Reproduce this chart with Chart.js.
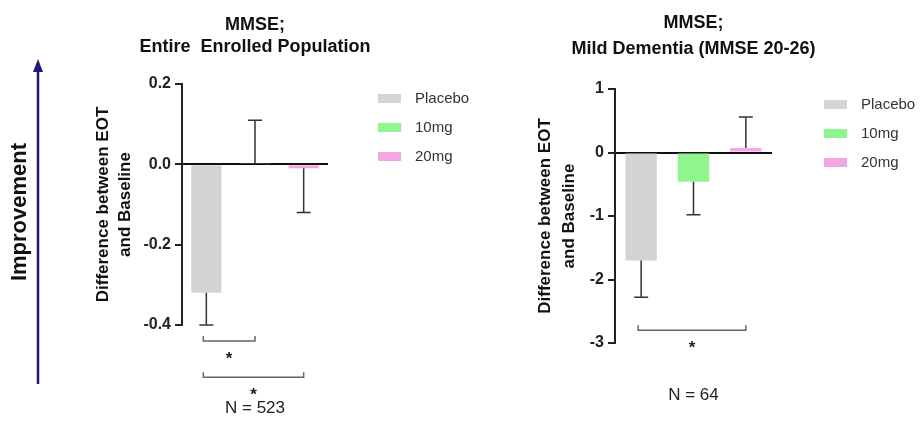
<!DOCTYPE html>
<html>
<head>
<meta charset="utf-8">
<script src="https://cdn.jsdelivr.net/npm/chart.js@4.4.1/dist/chart.umd.min.js"></script>
<style>
  body { margin:0; background:#fff; }
  canvas { position:absolute; top:0; }
  #c1 { left:0; }
  #c2 { left:500px; }
</style>
</head>
<body>
<canvas id="c1" width="500" height="429"></canvas>
<canvas id="c2" width="424" height="429"></canvas>
<script>
// ── data ───────────────────────────────────────────────
const groups = ['Placebo', '10mg', '20mg'];
const groupColors = ['#d4d4d4', '#8ff58f', '#f3a5e6'];

// MMSE, entire enrolled population (N = 523)
const entireMeans = [-0.32, 0.003, -0.01];
const entireErrors = [0.08, 0.107, 0.11];
const entireTicks = [-0.4, -0.2, 0.0, 0.2];
const entireSig = [[0, 1, -0.44], [0, 2, -0.53]];   // [from, to, bracket level]

// MMSE, mild dementia (N = 64)
const mildMeans = [-1.70, -0.46, 0.07];
const mildErrors = [0.58, 0.52, 0.49];
const mildTicks = [-3, -2, -1, 0, 1];
const mildSig = [[0, 2, -2.80]];

const FONT = 'Arial, "Liberation Sans", sans-serif';

// error bars, brackets, titles, legend, arrow
const extras = {
  id: 'extras',
  afterDatasetsDraw(chart, args, o) {
    const { ctx, scales: { x, y } } = chart;
    ctx.save();
    ctx.strokeStyle = '#333';
    ctx.lineWidth = 1.5;
    o.means.forEach((m, i) => {
      const cx = x.getPixelForValue(i);
      const end = m >= 0 ? m + o.errors[i] : m - o.errors[i];
      const y0 = y.getPixelForValue(m), y1 = y.getPixelForValue(end);
      ctx.beginPath();
      ctx.moveTo(cx, y0); ctx.lineTo(cx, y1);
      ctx.moveTo(cx - 7, y1); ctx.lineTo(cx + 7, y1);
      ctx.stroke();
    });
    ctx.restore();
  },
  afterDraw(chart, args, o) {
    const { ctx, chartArea: a, scales: { x, y } } = chart;
    const mid = (a.left + a.right) / 2;
    ctx.save();

    // significance brackets
    o.sig.forEach(([i, j, lvl]) => {
      const x0 = x.getPixelForValue(i) - 3, x1 = x.getPixelForValue(j);
      const by = y.getPixelForValue(lvl);
      ctx.strokeStyle = '#666';
      ctx.lineWidth = 1.5;
      ctx.beginPath();
      ctx.moveTo(x0, by - 5); ctx.lineTo(x0, by); ctx.lineTo(x1, by); ctx.lineTo(x1, by - 5);
      ctx.stroke();
      ctx.fillStyle = '#222';
      ctx.font = 'bold 17px ' + FONT;
      ctx.textAlign = 'center';
      ctx.textBaseline = 'alphabetic';
      ctx.fillText('*', (x0 + x1) / 2, by + 23);
    });

    // title
    ctx.fillStyle = '#111';
    ctx.font = 'bold 18px ' + FONT;
    ctx.textAlign = 'center';
    ctx.textBaseline = 'middle';
    o.title.forEach((t, k) => ctx.fillText(t, mid, o.titleY[k]));

    // N label
    ctx.font = '17px ' + FONT;
    ctx.fillStyle = '#222';
    ctx.fillText(o.n, mid, o.nY);

    // legend
    groups.forEach((g, k) => {
      const ly = a.top + o.legendTop + k * 29;
      ctx.fillStyle = groupColors[k];
      ctx.fillRect(a.right + o.legendGap, ly - 4, 23, 9);
      ctx.fillStyle = '#333';
      ctx.font = '15px ' + FONT;
      ctx.textAlign = 'left';
      ctx.fillText(g, a.right + o.legendGap + 37, ly + 1);
    });

    // improvement arrow
    if (o.arrow) {
      ctx.strokeStyle = '#1b1b7e';
      ctx.fillStyle = '#1b1b7e';
      ctx.lineWidth = 2.5;
      ctx.beginPath();
      ctx.moveTo(38, 384); ctx.lineTo(38, 70);
      ctx.stroke();
      ctx.beginPath();
      ctx.moveTo(38, 59); ctx.lineTo(33, 72); ctx.lineTo(43, 72);
      ctx.closePath();
      ctx.fill();
      ctx.save();
      ctx.translate(20, 212);
      ctx.rotate(-Math.PI / 2);
      ctx.fillStyle = '#111';
      ctx.font = 'bold 22px ' + FONT;
      ctx.textAlign = 'center';
      ctx.textBaseline = 'middle';
      ctx.fillText('Improvement', 0, 0);
      ctx.restore();
    }
    ctx.restore();
  }
};

function makeChart(id, cfg) {
  return new Chart(document.getElementById(id), {
    type: 'bar',
    data: {
      labels: groups,
      datasets: [{ data: cfg.means, backgroundColor: groupColors, borderWidth: 0,
                   barPercentage: 1, categoryPercentage: cfg.barPct }]
    },
    options: {
      responsive: false,
      animation: false,
      layout: { padding: cfg.padding },
      plugins: {
        legend: { display: false },
        tooltip: { enabled: false },
        extras: cfg.extras
      },
      scales: {
        x: { display: false },
        y: {
          z: 1,
          min: cfg.ticks[0],
          max: cfg.ticks[cfg.ticks.length - 1],
          afterBuildTicks: s => { s.ticks = cfg.ticks.map(v => ({ value: v })); },
          afterFit: s => { s.width = cfg.axisWidth; },
          border: { color: '#222', width: 2 },
          grid: {
            color: c => (c.tick && c.tick.value === 0 ? '#111' : 'transparent'),
            lineWidth: 2,
            tickColor: '#222',
            tickWidth: 2,
            tickLength: 7
          },
          ticks: {
            color: '#222',
            padding: 4,
            font: { family: FONT, size: 16, weight: 'bold' },
            callback: cfg.fmt
          },
          title: {
            display: true,
            text: ['Difference between EOT', 'and Baseline'],
            color: '#111',
            padding: { top: 4, bottom: 0 },
            font: { family: FONT, size: 17, weight: 'bold', lineHeight: cfg.titleLH }
          }
        }
      }
    },
    plugins: [extras]
  });
}

makeChart('c1', {
  means: entireMeans,
  ticks: entireTicks,
  barPct: 0.62,
  axisWidth: 94,
  titleLH: 22 / 17,
  padding: { left: 88, right: 172, top: 84, bottom: 104 },
  fmt: v => Number(v).toFixed(1),
  extras: {
    means: entireMeans, errors: entireErrors, sig: entireSig,
    title: ['MMSE;', 'Entire  Enrolled Population'], titleY: [25, 47],
    n: 'N = 523', nY: 408, legendTop: 14, legendGap: 50, arrow: true
  }
});

makeChart('c2', {
  means: mildMeans,
  ticks: mildTicks,
  barPct: 0.6,
  axisWidth: 86,
  titleLH: 24 / 17,
  padding: { left: 29, right: 152, top: 89, bottom: 86 },
  fmt: v => String(v),
  extras: {
    means: mildMeans, errors: mildErrors, sig: mildSig,
    title: ['MMSE;', 'Mild Dementia (MMSE 20-26)'], titleY: [23, 49],
    n: 'N = 64', nY: 395, legendTop: 15, legendGap: 52, arrow: false
  }
});
</script>
</body>
</html>
